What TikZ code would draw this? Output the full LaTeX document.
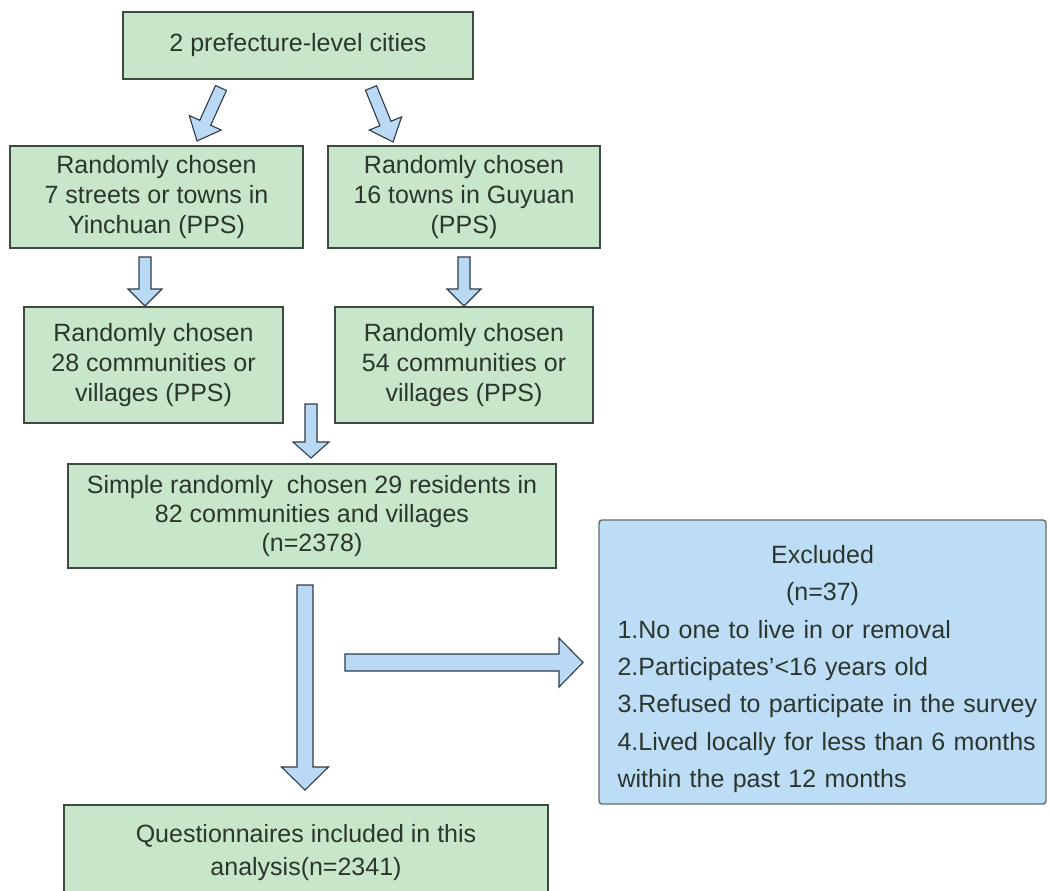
\documentclass[tikz,border=0pt]{standalone}
\usepackage{fontspec}
\setmainfont{Liberation Sans}
\usetikzlibrary{calc}

\definecolor{boxgreen}{HTML}{C8E6C9}
\definecolor{boxblue}{HTML}{BDDCF5}
\definecolor{arrowfill}{HTML}{B9D9F5}
\definecolor{arrowline}{HTML}{2E3A48}
\definecolor{edgegray}{HTML}{3C4A40}
\definecolor{textgray}{HTML}{2B362D}

% block arrow: tail, tip, half shaft, half head, head length
\newcommand\blockarrow[5]{%
  \coordinate (ba) at ($(#2)!#5!(#1)$);
  \draw[fill=arrowfill,draw=arrowline,line width=1.1pt,line join=miter]
    ($(#1)!#3!90:(#2)$) -- ($(ba)!#3!90:(#2)$) -- ($(ba)!#4!90:(#2)$) -- (#2)
    -- ($(ba)!#4!-90:(#2)$) -- ($(ba)!#3!-90:(#2)$) -- ($(#1)!#3!-90:(#2)$) -- cycle;
}
\newcommand\exclline[1]{\hspace*{10pt}#1}

\begin{document}
\begin{tikzpicture}[x=1pt,y=-1pt,
    stage/.style={draw=edgegray,line width=1.4pt,fill=boxgreen,text=textgray,
      align=center,inner sep=0pt,font=\fontsize{25}{30}\selectfont},
    excluded/.style={draw=edgegray!80,line width=1.4pt,fill=boxblue,text=textgray,
      rounded corners=3pt,text width=430pt,align=left,inner sep=0pt,
      minimum width=447pt,minimum height=284pt,font=\fontsize{25}{37.3}\selectfont}]
  \useasboundingbox (0,0) rectangle (1049,891);

  \node[stage,minimum width=350pt,minimum height=67pt]  (cities) at (298,45.5) {2 prefecture-level cities};
  \node[stage,minimum width=293pt,minimum height=102pt] (yinch)  at (156.5,197) {Randomly chosen\\7 streets or towns in\\Yinchuan (PPS)};
  \node[stage,minimum width=272pt,minimum height=102pt] (guyuan) at (464,197) {Randomly chosen\\16 towns in Guyuan\\(PPS)};
  \node[stage,minimum width=259pt,minimum height=116pt] (commY)  at (153.5,365) {Randomly chosen\\28 communities or\\villages (PPS)};
  \node[stage,minimum width=258pt,minimum height=116pt] (commG)  at (464,365) {Randomly chosen\\54 communities or\\villages (PPS)};
  \node[stage,minimum width=488pt,minimum height=104pt,font=\fontsize{25}{29}\selectfont]
    (resid) at (312,516) {Simple randomly\ \ chosen 29 residents in\\82 communities and villages\\(n=2378)};
  \node[excluded] (excl) at (822.5,662) {\makebox[430pt]{\rule{0pt}{32pt}Excluded}\\\makebox[430pt]{(n=37)}\\
    \exclline{1.No one to live in or removal}\\\exclline{2.Participates'<16 years old}\\\exclline{3.Refused to participate in the survey}\\
    \exclline{4.Lived locally for less than 6 months}\\\exclline{within the past 12 months}};
  \node[stage,minimum width=484pt,minimum height=95pt,font=\fontsize{25}{33}\selectfont]
    (final) at (306,852.5) {Questionnaires included in this\\analysis(n=2341)};

  \coordinate (c1) at (221,88);   \coordinate (y1) at (197,141);
  \coordinate (c2) at (371,88);   \coordinate (g1) at (393,142);
  \coordinate (y2) at (145,257);  \coordinate (cy) at (145,306);
  \coordinate (g2) at (464,257);  \coordinate (cg) at (464,306);
  \coordinate (m1) at (311,404);  \coordinate (r1) at (311,458);
  \coordinate (r2) at (305,585);  \coordinate (f1) at (305,790);
  \coordinate (r3) at (345,662.5);\coordinate (e1) at (583,662.5);

  \blockarrow{c1}{y1}{6pt}{17.5pt}{20pt}
  \blockarrow{c2}{g1}{6pt}{17.5pt}{20pt}
  \blockarrow{y2}{cy}{6pt}{17pt}{17pt}
  \blockarrow{g2}{cg}{6pt}{17pt}{17pt}
  \blockarrow{m1}{r1}{6pt}{18pt}{16pt}
  \blockarrow{r2}{f1}{8pt}{23.5pt}{23pt}
  \blockarrow{r3}{e1}{8.5pt}{24.5pt}{24pt}
\end{tikzpicture}
\end{document}
